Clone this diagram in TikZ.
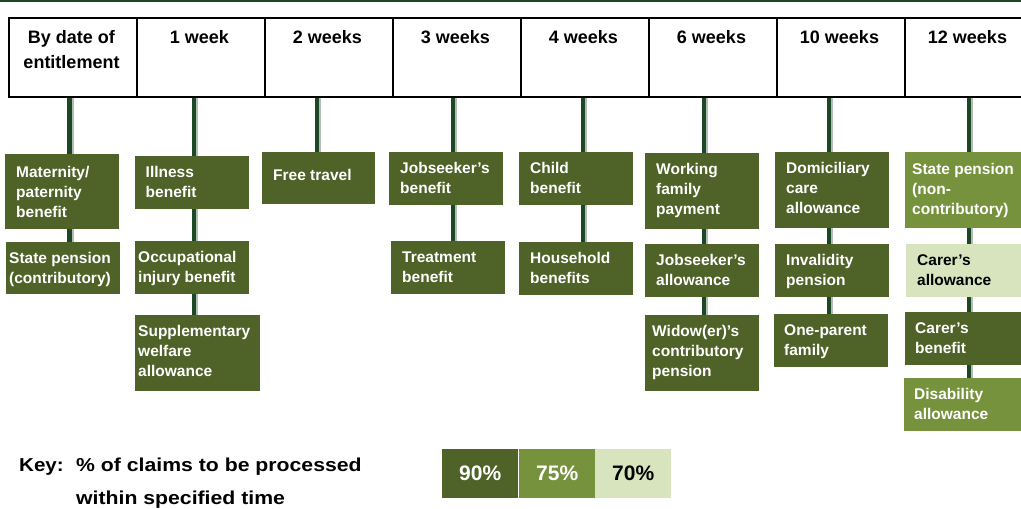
\documentclass[tikz,border=0pt]{standalone}
\usepackage{fontspec}
\setmainfont{Liberation Sans}
\usepackage{graphicx}
\usetikzlibrary{backgrounds}
\definecolor{cdark}{RGB}{79,98,40}
\definecolor{cmid}{RGB}{118,146,60}
\definecolor{clight}{RGB}{215,228,189}
\definecolor{cline}{RGB}{29,72,38}
\definecolor{cshadow}{RGB}{178,190,180}
\tikzset{
  boxshape/.style={rectangle, anchor=north west, inner sep=0pt, draw=none},
  boxtext/.style={anchor=base west, inner sep=0pt, font=\bfseries\fontsize{15.5}{20}\selectfont},
  hcell/.style={rectangle, draw=black, line width=2pt, anchor=north west, minimum width=128pt, minimum height=79pt, inner sep=0pt},
  htext/.style={anchor=base, inner sep=0pt, font=\bfseries\fontsize{18}{25}\selectfont},
  conn/.style={draw=cline, line width=4.5pt},
  connshadow/.style={draw=cshadow, line width=2pt, transform canvas={xshift=3.2pt}},
  keytext/.style={anchor=base west, inner sep=0pt, font=\bfseries\fontsize{18.7}{24}\selectfont},
  keybox/.style={rectangle, anchor=north west, minimum width=76pt, minimum height=49pt, inner sep=0pt, font=\bfseries\fontsize{21}{24}\selectfont}
}
\newcommand\bx[9]{%
  \node[boxshape, fill=#6, minimum width=#4pt, minimum height=#5pt] (#1) at (#2,#3) {};
  \node[boxtext, text=#7] (#1t) at (#8) {\parbox[t]{130pt}{\raggedright #9}};}
\begin{document}
\begin{tikzpicture}[x=1pt,y=-1pt]
\clip (0,0) rectangle (1021,509);
% top rule
\coordinate (rl) at (0,1);
\coordinate (rr) at (1021,1);
\draw[cline, line width=2pt] (rl) -- (rr);
% header cells
\node[hcell] (h1) at (7.5,17) {};
\node[hcell] (h2) at (135.5,17) {};
\node[hcell] (h3) at (263.5,17) {};
\node[hcell] (h4) at (391.5,17) {};
\node[hcell] (h5) at (519.5,17) {};
\node[hcell] (h6) at (647.5,17) {};
\node[hcell] (h7) at (775.5,17) {};
\node[hcell] (h8) at (903.5,17) {};
\node[htext] (h1t) at (71.5,43.3) {\parbox[t]{124pt}{\centering By date of\\entitlement}};
\node[htext] (h2t) at (199.5,43.3) {1 week};
\node[htext] (h3t) at (327.5,43.3) {2 weeks};
\node[htext] (h4t) at (455.5,43.3) {3 weeks};
\node[htext] (h5t) at (583.5,43.3) {4 weeks};
\node[htext] (h6t) at (711.5,43.3) {6 weeks};
\node[htext] (h7t) at (839.5,43.3) {10 weeks};
\node[htext] (h8t) at (967.5,43.3) {12 weeks};
% connector tops
\coordinate (k1) at (69.5,97);
\coordinate (k2) at (194,97);
\coordinate (k3) at (317,97);
\coordinate (k4) at (453,97);
\coordinate (k5) at (583,97);
\coordinate (k6) at (704,97);
\coordinate (k7) at (829,97);
\coordinate (k8) at (969,97);
% column 1
\bx{m1}{5}{154}{114}{75}{cdark}{white}{16,177}{Maternity/\\paternity\\benefit}
\bx{m2}{6}{242}{114}{52}{cdark}{white}{9,263}{State pension\\(contributory)}
% column 2
\bx{i1}{135}{156}{114}{53}{cdark}{white}{145.5,177}{Illness\\benefit}
\bx{i2}{135}{241}{114}{53}{cdark}{white}{138,262}{Occupational\\injury benefit}
\bx{i3}{135}{315}{125}{76}{cdark}{white}{138,336}{Supplementary\\welfare\\allowance}
% column 3
\bx{f1}{262}{152}{113}{52}{cdark}{white}{273,180}{Free travel}
% column 4
\bx{j1}{389}{152}{114}{53}{cdark}{white}{400,173}{Jobseeker’s\\benefit}
\bx{j2}{391}{241}{114}{53}{cdark}{white}{402,262}{Treatment\\benefit}
% column 5
\bx{c1}{519}{152}{114}{53}{cdark}{white}{530,173}{Child\\benefit}
\bx{c2}{519}{242}{114}{53}{cdark}{white}{530,263}{Household\\benefits}
% column 6
\bx{w1}{645}{153}{114}{76}{cdark}{white}{656,174}{Working\\family\\payment}
\bx{w2}{645}{244}{114}{53}{cdark}{white}{656,265}{Jobseeker’s\\allowance}
\bx{w3}{645}{315}{114}{76}{cdark}{white}{652,336}{Widow(er)’s\\contributory\\pension}
% column 7
\bx{d1}{775}{152}{114}{76}{cdark}{white}{786,173}{Domiciliary\\care\\allowance}
\bx{d2}{775}{244}{114}{53}{cdark}{white}{786,265}{Invalidity\\pension}
\bx{d3}{774}{314}{114}{53}{cdark}{white}{784,335}{One-parent\\family}
% column 8
\bx{s1}{905}{152}{120}{76}{cmid}{white}{912,174}{State pension\\(non-\\contributory)}
\bx{s2}{906}{244}{120}{53}{clight}{black}{917,265}{Carer’s\\allowance}
\bx{s3}{905}{312}{120}{53}{cdark}{white}{915,333}{Carer’s\\benefit}
\bx{s4}{904}{378}{121}{53}{cmid}{white}{914,399}{Disability\\allowance}
% connectors behind the boxes
\begin{pgfonlayer}{background}
\fill[white] (0,0) rectangle (1021,509);
\foreach \k/\b in {k1/m2,k2/i3,k3/f1,k4/j2,k5/c2,k6/w3,k7/d3,k8/s4}{
  \draw[connshadow] (\k) -- (\k |- \b.north);
  \draw[conn] (\k) -- (\k |- \b.north);
}
\end{pgfonlayer}
% key
\node[keytext] (key) at (19,471) {\scalebox{1.1}[1]{Key:}};
\node[keytext] (keyd) at (76,471) {\scalebox{1.135}[1]{\% of claims to be processed}};
\node[keytext] (keyd2) at (76,504) {\scalebox{1.135}[1]{within specified time}};
\node[keybox, fill=cdark, text=white] (k90) at (442,449) {90\%};
\node[keybox, fill=cmid, text=white] (k75) at (519,449) {75\%};
\node[keybox, fill=clight, text=black] (k70) at (595,449) {70\%};
\end{tikzpicture}
\end{document}
